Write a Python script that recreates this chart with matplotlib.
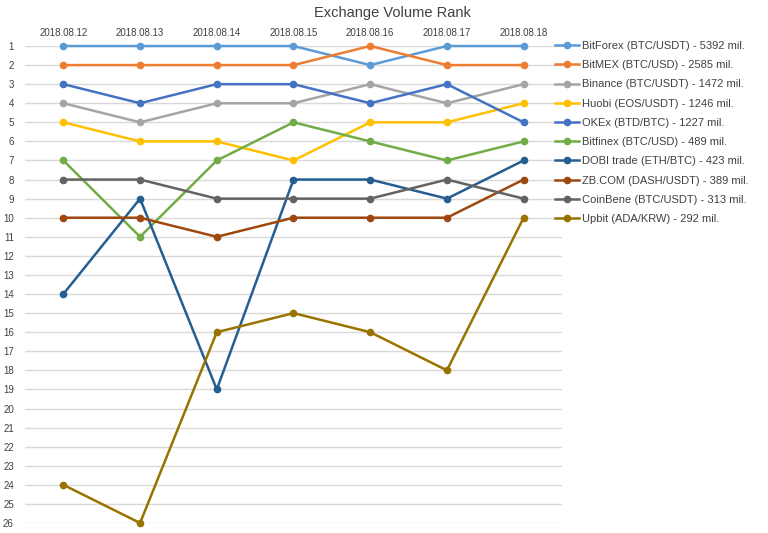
import numpy as np
import matplotlib.pyplot as plt

plt.rcParams['font.family'] = ['Liberation Sans', 'DejaVu Sans']

dates = ['2018.08.12', '2018.08.13', '2018.08.14', '2018.08.15',
         '2018.08.16', '2018.08.17', '2018.08.18']

names = ['BitForex (BTC/USDT) - 5392 mil.',
         'BitMEX (BTC/USD) - 2585 mil.',
         'Binance (BTC/USDT) - 1472 mil.',
         'Huobi (EOS/USDT) - 1246 mil.',
         'OKEx (BTD/BTC) - 1227 mil.',
         'Bitfinex (BTC/USD) - 489 mil.',
         'DOBI trade (ETH/BTC) - 423 mil.',
         'ZB.COM (DASH/USDT) - 389 mil.',
         'CoinBene (BTC/USDT) - 313 mil.',
         'Upbit (ADA/KRW) - 292 mil.']

bitforex = [1, 1, 1, 1, 2, 1, 1]
bitmex = [2, 2, 2, 2, 1, 2, 2]
binance = [4, 5, 4, 4, 3, 4, 3]
huobi = [5, 6, 6, 7, 5, 5, 4]
okex = [3, 4, 3, 3, 4, 3, 5]
bitfinex = [7, 11, 7, 5, 6, 7, 6]
dobi = [14, 9, 19, 8, 8, 9, 7]
zbcom = [10, 10, 11, 10, 10, 10, 8]
coinbene = [8, 8, 9, 9, 9, 8, 9]
upbit = [24, 26, 16, 15, 16, 18, 10]

series = [bitforex, bitmex, binance, huobi, okex,
          bitfinex, dobi, zbcom, coinbene, upbit]
colors = ['#5B9BD5', '#ED7D31', '#A5A5A5', '#FFC000', '#4472C4',
          '#70AD47', '#255E91', '#9E480E', '#636363', '#997300']

W, H = 768, 533
fig = plt.figure(figsize=(W / 100, H / 100), dpi=100)
ax = fig.add_axes([25 / W, 1 - 523 / H, (562 - 25) / W, (523 - 46) / H])

x = np.arange(len(dates))
for vals, c, name in zip(series, colors, names):
    ax.plot(x, vals, color=c, lw=1.8, marker='o', ms=4.5, label=name,
            clip_on=False, zorder=3)

ax.set_xlim(-0.5, len(dates) - 0.5)
ax.set_ylim(26, 1)
ax.set_yticks(np.arange(1, 27))
ax.set_xticks(x)
ax.set_xticklabels(dates)
ax.xaxis.tick_top()
ax.tick_params(length=0, labelsize=7, labelcolor='#404040')
ax.tick_params(axis='y', pad=8)
ax.tick_params(axis='x', pad=6)
ax.grid(axis='y', color='#D9D9D9', lw=1)
ax.set_axisbelow(True)
for s in ax.spines.values():
    s.set_visible(False)

fig.text(392 / W, 1 - 13 / H, 'Exchange Volume Rank',
         ha='center', va='center', fontsize=10.5, color='#404040')

fig.legend(loc='upper left', bbox_to_anchor=(555 / W, 1 - 41 / H),
           frameon=False, fontsize=8, handlelength=2.2, handletextpad=0.25,
           labelspacing=0.83, borderaxespad=0, borderpad=0,
           labelcolor='#404040')

fig.savefig('out.png', dpi=100)
